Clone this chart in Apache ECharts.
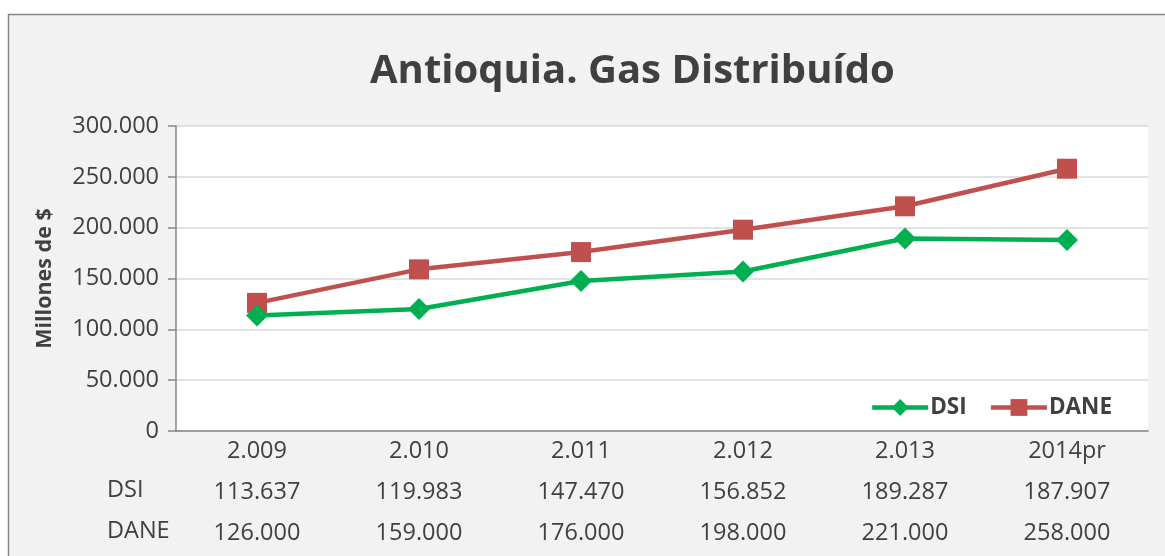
<!DOCTYPE html>
<html><head><meta charset="utf-8">
<script src="https://cdn.jsdelivr.net/npm/echarts@6/dist/echarts.min.js"></script>
<style>html,body{margin:0;padding:0;background:#fff}#c{width:1165px;height:556px}</style>
</head><body><div id="c"></div>
<script>
const categories = ['2.009','2.010','2.011','2.012','2.013','2014pr'];
const dsi = [113637, 119983, 147470, 156852, 189287, 187907];
const dane = [126000, 159000, 176000, 198000, 221000, 258000];
const seriesNames = ['DSI','DANE'];
const yTicks = {min: 0, max: 300000, interval: 50000};

function fmt(v){ return String(v).replace(/\B(?=(\d{3})+(?!\d))/g, '.'); }
const FONT = 'Open Sans';
const TXT = '#404040';
const FS = 23.5;

const chart = echarts.init(document.getElementById('c'));
function tableAxis(values, offset){
  return {
    type:'category', data: categories, position:'bottom', offset: offset,
    axisLine:{show:false}, axisTick:{show:false}, splitLine:{show:false},
    axisLabel:{fontFamily:FONT, fontSize:FS, color:TXT, margin:8,
      formatter:(v, i)=> fmt(values[i])}
  };
}
chart.setOption({
  animation:false,
  backgroundColor:'#fff',
  graphic:[
    {type:'rect', z:-100, silent:true, shape:{x:8.5,y:14.5,width:1300,height:700},
     style:{fill:'#f2f2f2', stroke:'#868686', lineWidth:1.5}},
    {type:'text', left:107, top:478, z:10, style:{text:seriesNames[0], font:FS+'px "Open Sans"', fill:TXT}},
    {type:'text', left:107, top:519, z:10, style:{text:seriesNames[1], font:FS+'px "Open Sans"', fill:TXT}}
  ],
  title:{text:'Antioquia. Gas Distribuído', left:365, top:47,
    textStyle:{fontFamily:FONT, fontWeight:'bold', fontSize:40, color:TXT}},
  grid:{left:176, right:17, top:126, bottom:125, show:true, backgroundColor:'#fff', borderWidth:0},
  legend:{right:48, top:391, itemGap:22, itemWidth:56, itemHeight:21,
    lineStyle:{width:4.5},
    textStyle:{fontFamily:FONT, fontWeight:'bold', fontSize:22.5, color:TXT, padding:[0,0,0,-3]},
    data:seriesNames},
  xAxis:[
    {type:'category', data:categories, position:'bottom',
     axisLine:{lineStyle:{color:'#868686', width:1.5}}, axisTick:{show:false},
     axisLabel:{fontFamily:FONT, fontSize:FS, color:TXT, margin:8}},
    tableAxis(dsi, 41),
    tableAxis(dane, 82)
  ],
  yAxis:{type:'value', min:yTicks.min, max:yTicks.max, interval:yTicks.interval,
    name:'Millones de $', nameLocation:'middle', nameRotate:90, nameGap:120,
    nameTextStyle:{fontFamily:FONT, fontWeight:'bold', fontSize:21.5, color:TXT},
    axisLine:{show:true, lineStyle:{color:'#868686', width:1.5}},
    axisTick:{show:true, length:8, lineStyle:{color:'#868686', width:1.5}},
    splitLine:{lineStyle:{color:'#d9d9d9', width:1.5}},
    axisLabel:{fontFamily:FONT, fontSize:FS, color:TXT, margin:17, formatter:v=>fmt(v)}},
  series:[
    {name:seriesNames[0], type:'line', data:dsi, xAxisIndex:0, symbol:'diamond', symbolSize:22,
     lineStyle:{color:'#00b050', width:4.5}, itemStyle:{color:'#00b050'}, z:3},
    {name:seriesNames[1], type:'line', data:dane, xAxisIndex:0, symbol:'rect', symbolSize:20,
     lineStyle:{color:'#c0504d', width:4.5}, itemStyle:{color:'#c0504d'}, z:2}
  ]
});
</script></body></html>
